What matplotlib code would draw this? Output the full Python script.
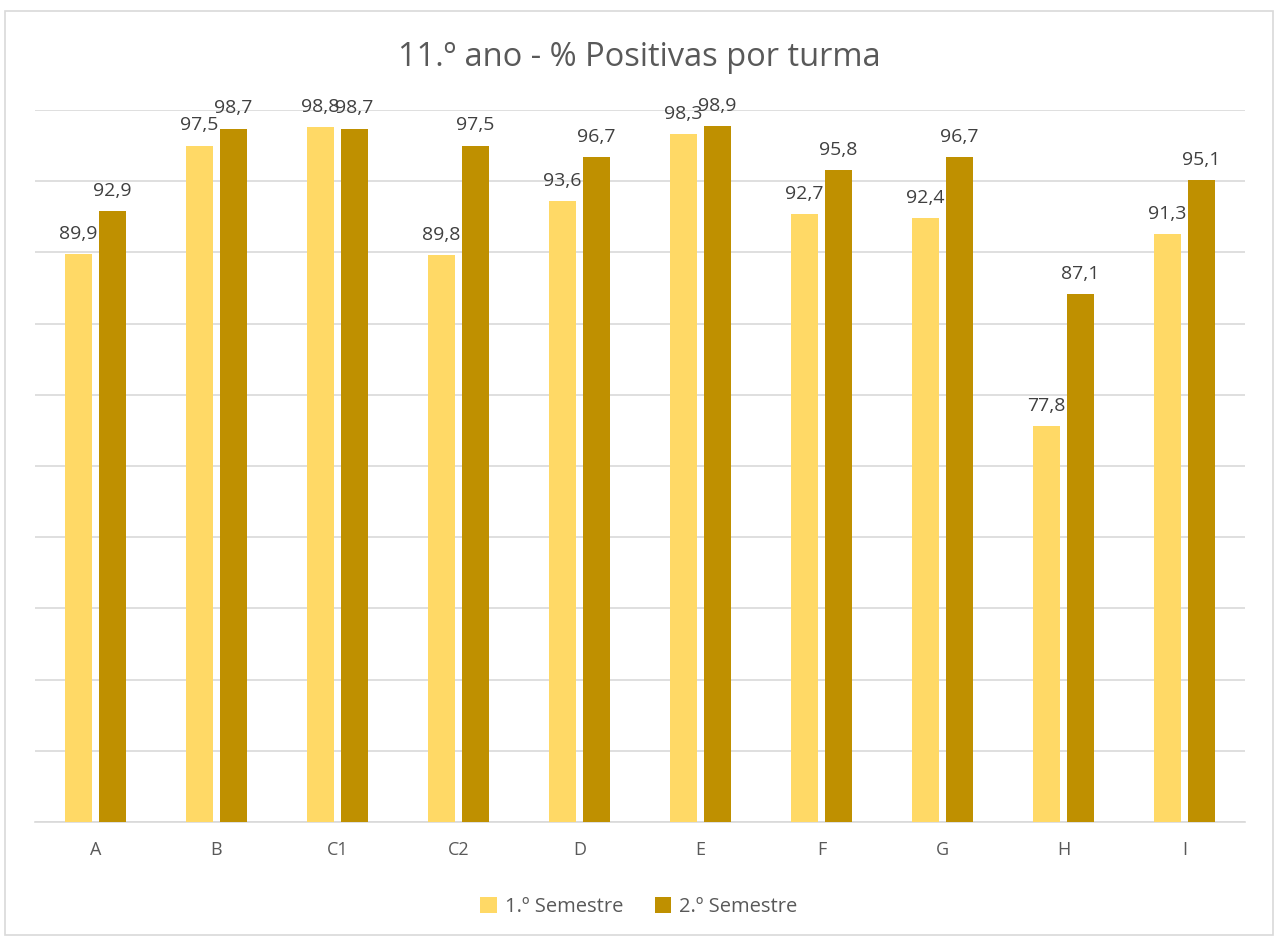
import matplotlib
matplotlib.use('Agg')
import matplotlib.pyplot as plt
import numpy as np
from matplotlib.patches import Rectangle

matplotlib.rcParams['font.family'] = ['Open Sans', 'DejaVu Sans']

# data
turmas = ['A', 'B', 'C1', 'C2', 'D', 'E', 'F', 'G', 'H', 'I']
sem1 = [89.9, 97.5, 98.8, 89.8, 93.6, 98.3, 92.7, 92.4, 77.8, 91.3]
sem2 = [92.9, 98.7, 98.7, 97.5, 96.7, 98.9, 95.8, 96.7, 87.1, 95.1]
series_names = ['1.º Semestre', '2.º Semestre']
colors = ['#FFD966', '#BF9000']

fig = plt.figure(figsize=(12.78, 9.38), dpi=100)
ax = fig.add_axes([35/1278, 1-822/938, 1210/1278, 712/938])

# outer chart border
fig.patches.append(Rectangle((5/1278, 3/938), 1268/1278, 924/938,
                             transform=fig.transFigure, fill=False,
                             edgecolor='#D9D9D9', linewidth=1.2))

x = np.arange(len(turmas))
w = 0.223
off = 0.14
for vals, dx, c, name in zip([sem1, sem2], [-off, off], colors, series_names):
    bars = ax.bar(x + dx, vals, width=w, color=c, label=name, zorder=3)
    for b, v in zip(bars, vals):
        ax.annotate(('%.1f' % v).replace('.', ','),
                    (b.get_x() + b.get_width()/2, v),
                    xytext=(0, 8), textcoords='offset points',
                    ha='center', va='bottom', fontsize=14, color='#404040')

ax.set_xlim(-0.5, len(turmas) - 0.5)
ax.set_ylim(50, 100)
ax.set_yticks(np.arange(50, 101, 5))
ax.set_yticklabels([])
ax.tick_params(axis='y', length=0)
ax.tick_params(axis='x', length=0, pad=14, labelsize=13, labelcolor='#595959')
ax.set_xticks(x)
ax.set_xticklabels(turmas)
ax.grid(axis='y', color='#D9D9D9', linewidth=1.2, zorder=0)
for s in ['top', 'right', 'left']:
    ax.spines[s].set_visible(False)
ax.spines['bottom'].set_color('#D9D9D9')
ax.spines['bottom'].set_linewidth(1.2)

fig.text(0.5, 1-57/938, '11.º ano - % Positivas por turma', ha='center', va='center',
         fontsize=23.5, color='#595959')

fig.legend(loc='center', bbox_to_anchor=(0.5, 1-907/938), ncol=2, frameon=False,
           fontsize=14.5, handlelength=0.8, handleheight=0.8, columnspacing=1.6,
           handletextpad=0.4, labelcolor='#595959')

fig.savefig('out.png', dpi=100)
